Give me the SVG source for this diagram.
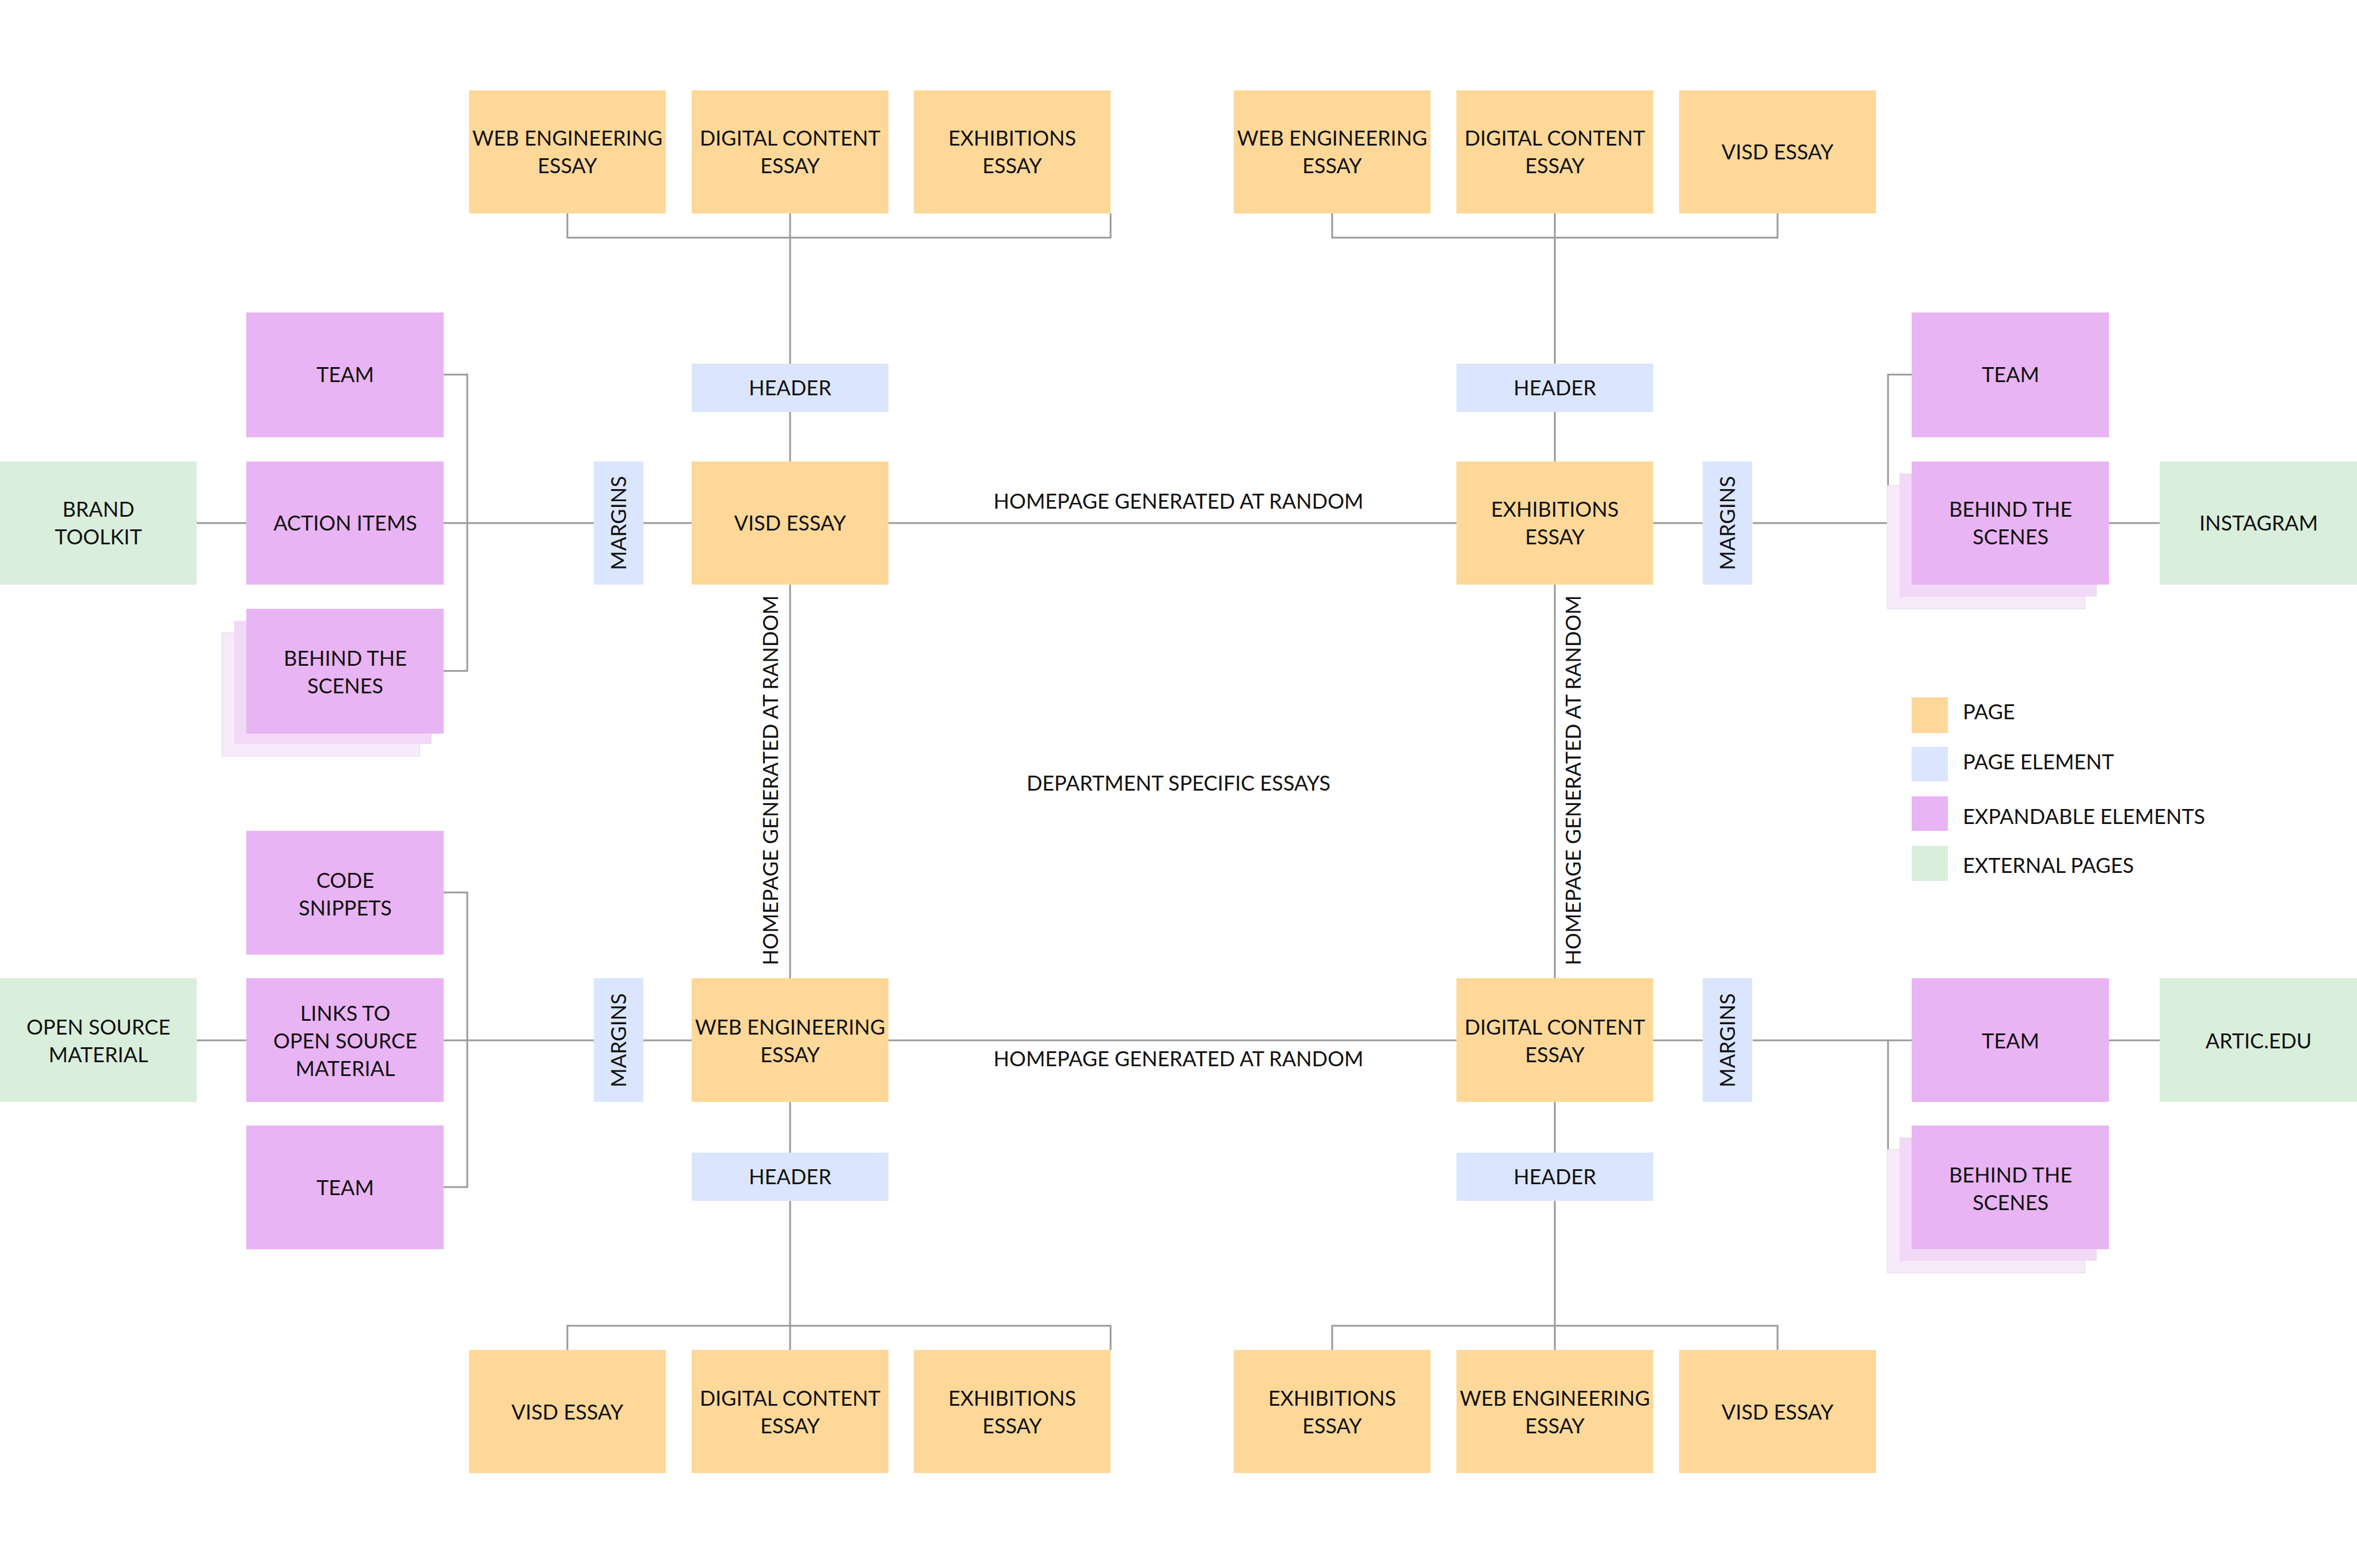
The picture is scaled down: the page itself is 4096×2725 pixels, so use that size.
<svg xmlns="http://www.w3.org/2000/svg" width="4096" height="2725" viewBox="0 0 4096 2725">
<style>
.pg{fill:#FDD899}.el{fill:#DBE5FD}.ex{fill:#E9B4F3}.xt{fill:#DAEEDC}.s1{fill:#F1D9F7}.s2{fill:#F7EAFB;stroke:#EDE3F0;stroke-width:2}
text{font-family:Lato,"Noto Sans",sans-serif;font-size:36px;fill:#111;text-anchor:middle}
.l{text-anchor:start}
#connectors path{fill:none;stroke:#999;stroke-width:3}
</style>
<rect width="4096" height="2725" fill="#fff"/>
<g id="connectors">
<path d="M986 371V413H1930V371M1373 371V632M1373 716V802M1373 1016V1700M1373 1915V2003M1373 2087V2346M986 2346V2304H1930V2346"/>
<path d="M2315 371V413H3089V371M2702 371V632M2702 716V802M2702 1016V1700M2702 1915V2003M2702 2087V2346M2315 2346V2304H3089V2346"/>
<path d="M342 909H428M771 909H1032M1118 909H1202M1544 909H2531M2873 909H2959M3046 909H3322M3665 909H3753"/>
<path d="M771 651H812V1166H771"/>
<path d="M3322 651H3281V909"/>
<path d="M342 1808H428M771 1808H1032M1118 1808H1202M1544 1808H2531M2873 1808H2959M3046 1808H3322M3665 1808H3753"/>
<path d="M771 1551H812V2063H771"/>
<path d="M3322 2063H3281V1808"/>
</g>
<g id="tl1"><rect class="pg" x="815" y="157" width="342" height="214"/><text x="986" y="253">WEB ENGINEERING</text><text x="986" y="301">ESSAY</text></g>
<g id="tl2"><rect class="pg" x="1202" y="157" width="342" height="214"/><text x="1373" y="253">DIGITAL CONTENT</text><text x="1373" y="301">ESSAY</text></g>
<g id="tl3"><rect class="pg" x="1588" y="157" width="342" height="214"/><text x="1759" y="253">EXHIBITIONS</text><text x="1759" y="301">ESSAY</text></g>
<g id="tr1"><rect class="pg" x="2144" y="157" width="342" height="214"/><text x="2315" y="253">WEB ENGINEERING</text><text x="2315" y="301">ESSAY</text></g>
<g id="tr2"><rect class="pg" x="2531" y="157" width="342" height="214"/><text x="2702" y="253">DIGITAL CONTENT</text><text x="2702" y="301">ESSAY</text></g>
<g id="tr3"><rect class="pg" x="2918" y="157" width="342" height="214"/><text x="3089" y="277">VISD ESSAY</text></g>
<g id="hdr1"><rect class="el" x="1202" y="632" width="342" height="84"/><text x="1373" y="687">HEADER</text></g>
<g id="hdr2"><rect class="el" x="2531" y="632" width="342" height="84"/><text x="2702" y="687">HEADER</text></g>
<g id="visd"><rect class="pg" x="1202" y="802" width="342" height="214"/><text x="1373" y="922">VISD ESSAY</text></g>
<g id="exh"><rect class="pg" x="2531" y="802" width="342" height="214"/><text x="2702" y="898">EXHIBITIONS</text><text x="2702" y="946">ESSAY</text></g>
<g id="m1"><rect class="el" x="1032" y="802" width="86" height="214"/><text transform="translate(1088 909) rotate(-90)">MARGINS</text></g>
<g id="m2"><rect class="el" x="2959" y="802" width="86" height="214"/><text transform="translate(3015 909) rotate(-90)">MARGINS</text></g>
<g id="brand"><rect class="xt" x="0" y="802" width="342" height="214"/><text x="171" y="898">BRAND</text><text x="171" y="946">TOOLKIT</text></g>
<g id="team1"><rect class="ex" x="428" y="543" width="343" height="217"/><text x="600" y="664">TEAM</text></g>
<g id="action"><rect class="ex" x="428" y="802" width="343" height="214"/><text x="600" y="922">ACTION ITEMS</text></g>
<g id="bts1"><rect class="s2" x="386" y="1100" width="343" height="214"/><rect class="s1" x="407" y="1079" width="343" height="214"/><rect class="ex" x="428" y="1058" width="343" height="217"/><text x="600" y="1157">BEHIND THE</text><text x="600" y="1205">SCENES</text></g>
<g id="team2"><rect class="ex" x="3322" y="543" width="343" height="217"/><text x="3494" y="664">TEAM</text></g>
<g id="bts2"><rect class="s2" x="3280" y="844" width="343" height="214"/><rect class="s1" x="3301" y="823" width="343" height="214"/><rect class="ex" x="3322" y="802" width="343" height="214"/><text x="3494" y="898">BEHIND THE</text><text x="3494" y="946">SCENES</text></g>
<g id="insta"><rect class="xt" x="3753" y="802" width="343" height="214"/><text x="3925" y="922">INSTAGRAM</text></g>
<text x="2048" y="884">HOMEPAGE GENERATED AT RANDOM</text>
<text x="2048" y="1853">HOMEPAGE GENERATED AT RANDOM</text>
<text transform="translate(1352 1356) rotate(-90)">HOMEPAGE GENERATED AT RANDOM</text>
<text transform="translate(2747 1356) rotate(-90)">HOMEPAGE GENERATED AT RANDOM</text>
<text x="2048" y="1374">DEPARTMENT SPECIFIC ESSAYS</text>
<g id="web"><rect class="pg" x="1202" y="1700" width="342" height="215"/><text x="1373" y="1798">WEB ENGINEERING</text><text x="1373" y="1846">ESSAY</text></g>
<g id="dig"><rect class="pg" x="2531" y="1700" width="342" height="215"/><text x="2702" y="1798">DIGITAL CONTENT</text><text x="2702" y="1846">ESSAY</text></g>
<g id="m3"><rect class="el" x="1032" y="1700" width="86" height="215"/><text transform="translate(1088 1808) rotate(-90)">MARGINS</text></g>
<g id="m4"><rect class="el" x="2959" y="1700" width="86" height="215"/><text transform="translate(3015 1808) rotate(-90)">MARGINS</text></g>
<g id="oss"><rect class="xt" x="0" y="1700" width="342" height="215"/><text x="171" y="1798">OPEN SOURCE</text><text x="171" y="1846">MATERIAL</text></g>
<g id="code"><rect class="ex" x="428" y="1444" width="343" height="215"/><text x="600" y="1543">CODE</text><text x="600" y="1591">SNIPPETS</text></g>
<g id="links"><rect class="ex" x="428" y="1700" width="343" height="215"/><text x="600" y="1774">LINKS TO</text><text x="600" y="1822">OPEN SOURCE</text><text x="600" y="1870">MATERIAL</text></g>
<g id="team3"><rect class="ex" x="428" y="1956" width="343" height="215"/><text x="600" y="2077">TEAM</text></g>
<g id="team4"><rect class="ex" x="3322" y="1700" width="343" height="215"/><text x="3494" y="1822">TEAM</text></g>
<g id="bts3"><rect class="s2" x="3280" y="1998" width="343" height="214"/><rect class="s1" x="3301" y="1977" width="343" height="214"/><rect class="ex" x="3322" y="1956" width="343" height="215"/><text x="3494" y="2055">BEHIND THE</text><text x="3494" y="2103">SCENES</text></g>
<g id="artic"><rect class="xt" x="3753" y="1700" width="343" height="215"/><text x="3925" y="1822">ARTIC.EDU</text></g>
<g id="hdr3"><rect class="el" x="1202" y="2003" width="342" height="84"/><text x="1373" y="2058">HEADER</text></g>
<g id="hdr4"><rect class="el" x="2531" y="2003" width="342" height="84"/><text x="2702" y="2058">HEADER</text></g>
<g id="bl1"><rect class="pg" x="815" y="2346" width="342" height="214"/><text x="986" y="2467">VISD ESSAY</text></g>
<g id="bl2"><rect class="pg" x="1202" y="2346" width="342" height="214"/><text x="1373" y="2443">DIGITAL CONTENT</text><text x="1373" y="2491">ESSAY</text></g>
<g id="bl3"><rect class="pg" x="1588" y="2346" width="342" height="214"/><text x="1759" y="2443">EXHIBITIONS</text><text x="1759" y="2491">ESSAY</text></g>
<g id="br1"><rect class="pg" x="2144" y="2346" width="342" height="214"/><text x="2315" y="2443">EXHIBITIONS</text><text x="2315" y="2491">ESSAY</text></g>
<g id="br2"><rect class="pg" x="2531" y="2346" width="342" height="214"/><text x="2702" y="2443">WEB ENGINEERING</text><text x="2702" y="2491">ESSAY</text></g>
<g id="br3"><rect class="pg" x="2918" y="2346" width="342" height="214"/><text x="3089" y="2467">VISD ESSAY</text></g>
<g id="legend">
<rect class="pg" x="3322" y="1212" width="63" height="62"/><text class="l" x="3411" y="1250">PAGE</text>
<rect class="el" x="3322" y="1298" width="63" height="60"/><text class="l" x="3411" y="1337">PAGE ELEMENT</text>
<rect class="ex" x="3322" y="1384" width="63" height="60"/><text class="l" x="3411" y="1432">EXPANDABLE ELEMENTS</text>
<rect class="xt" x="3322" y="1470" width="63" height="61"/><text class="l" x="3411" y="1517">EXTERNAL PAGES</text>
</g>
</svg>
